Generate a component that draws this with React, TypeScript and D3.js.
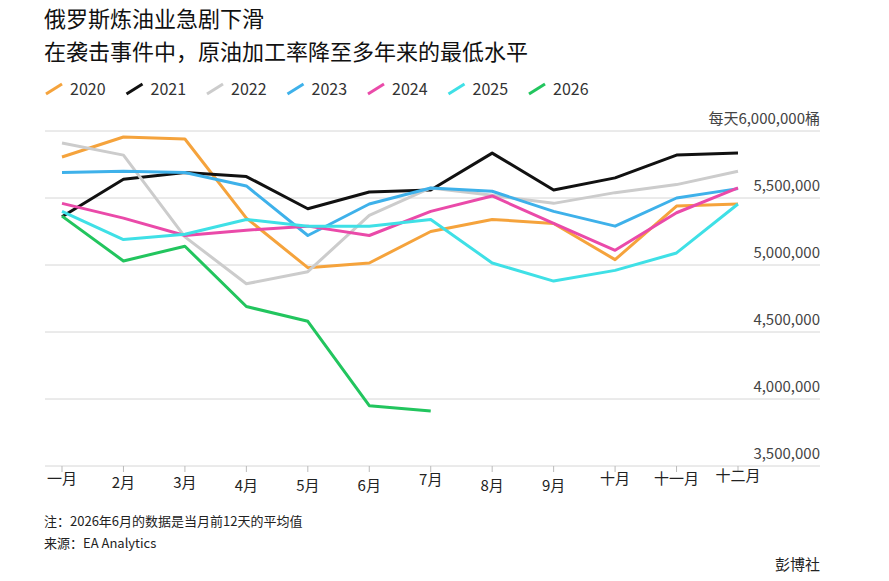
import React from 'react';
import * as d3 from 'd3';

const months = ['一月', '2月', '3月', '4月', '5月', '6月', '7月', '8月', '9月', '十月', '十一月', '十二月'];
const years = ['2020', '2021', '2022', '2023', '2024', '2025', '2026'];
const colors = ['#f5a33c', '#111111', '#cccccc', '#3eb1ea', '#ea4aa9', '#3fe0e6', '#22c55e'];
const v2020 = [5.806, 5.955, 5.94, 5.35, 4.98, 5.015, 5.25, 5.34, 5.31, 5.04, 5.44, 5.455];
const v2021 = [5.36, 5.64, 5.69, 5.66, 5.42, 5.545, 5.56, 5.835, 5.56, 5.65, 5.82, 5.835];
const v2022 = [5.91, 5.82, 5.21, 4.86, 4.95, 5.37, 5.575, 5.52, 5.46, 5.54, 5.6, 5.7];
const v2023 = [5.69, 5.7, 5.69, 5.59, 5.22, 5.455, 5.575, 5.55, 5.4, 5.29, 5.5, 5.57];
const v2024 = [5.46, 5.35, 5.22, 5.26, 5.29, 5.22, 5.4, 5.515, 5.31, 5.11, 5.39, 5.575];
const v2025 = [5.4, 5.19, 5.23, 5.34, 5.29, 5.29, 5.34, 5.015, 4.88, 4.96, 5.09, 5.455];
const v2026 = [5.365, 5.03, 5.14, 4.69, 4.58, 3.95, 3.91];
const series = [v2020, v2021, v2022, v2023, v2024, v2025, v2026];
const yTicks = [3.5, 4, 4.5, 5, 5.5, 6];
const labelY = [484, 488, 488, 491, 491, 491, 485, 491, 491, 484, 484, 481];

const font = '"Noto Sans CJK SC", "Noto Sans", sans-serif';

export default function App() {
  const x = d3.scaleLinear().domain([0, 11]).range([62, 738]);
  const y = d3.scaleLinear().domain([3.5, 6]).range([466, 131]);
  const line = d3.line<number>().x((_, i) => x(i)).y(d => y(d));
  const fmt = d3.format(',');

  return (
    <svg width={889} height={581} style={{ position: 'absolute', left: 0, top: 0, background: '#fff', fontFamily: font }}>
      <text x={44} y={27} fontSize={22} fill="#111">俄罗斯炼油业急剧下滑</text>
      <text x={44} y={60} fontSize={22} fill="#111">在袭击事件中，原油加工率降至多年来的最低水平</text>
      {years.map((yr, i) => (
        <g key={yr} transform={`translate(${46 + i * 80.5},89)`}>
          <line x1={0} x2={16} y1={5} y2={-5} stroke={colors[i]} strokeWidth={3} />
          <text x={24} y={6} fontSize={16} fill="#333">{yr}</text>
        </g>
      ))}
      {yTicks.map(t => (
        <g key={t}>
          <line x1={45} x2={820} y1={y(t)} y2={y(t)} stroke="#d6d6d6" strokeWidth={1} />
          <text x={820} y={y(t) - 7} textAnchor="end" fontSize={15} fill="#444">
            {t === 6 ? '每天6,000,000桶' : fmt(t * 1e6)}
          </text>
        </g>
      ))}
      {series.map((s, i) => (
        <path key={i} d={line(s) || ''} fill="none" stroke={colors[i]} strokeWidth={3} strokeLinejoin="round" />
      ))}
      {months.map((m, i) => (
        <g key={m}>
          <line x1={x(i)} x2={x(i)} y1={466} y2={472} stroke="#bbb" />
          <text x={x(i)} y={labelY[i]} textAnchor="middle" fontSize={15} fill="#222">{m}</text>
        </g>
      ))}
      <text x={44} y={526} fontSize={13} fill="#222">注：2026年6月的数据是当月前12天的平均值</text>
      <text x={44} y={548} fontSize={13} fill="#222">来源：EA Analytics</text>
      <text x={820} y={570} textAnchor="end" fontSize={15} fill="#222">彭博社</text>
    </svg>
  );
}
